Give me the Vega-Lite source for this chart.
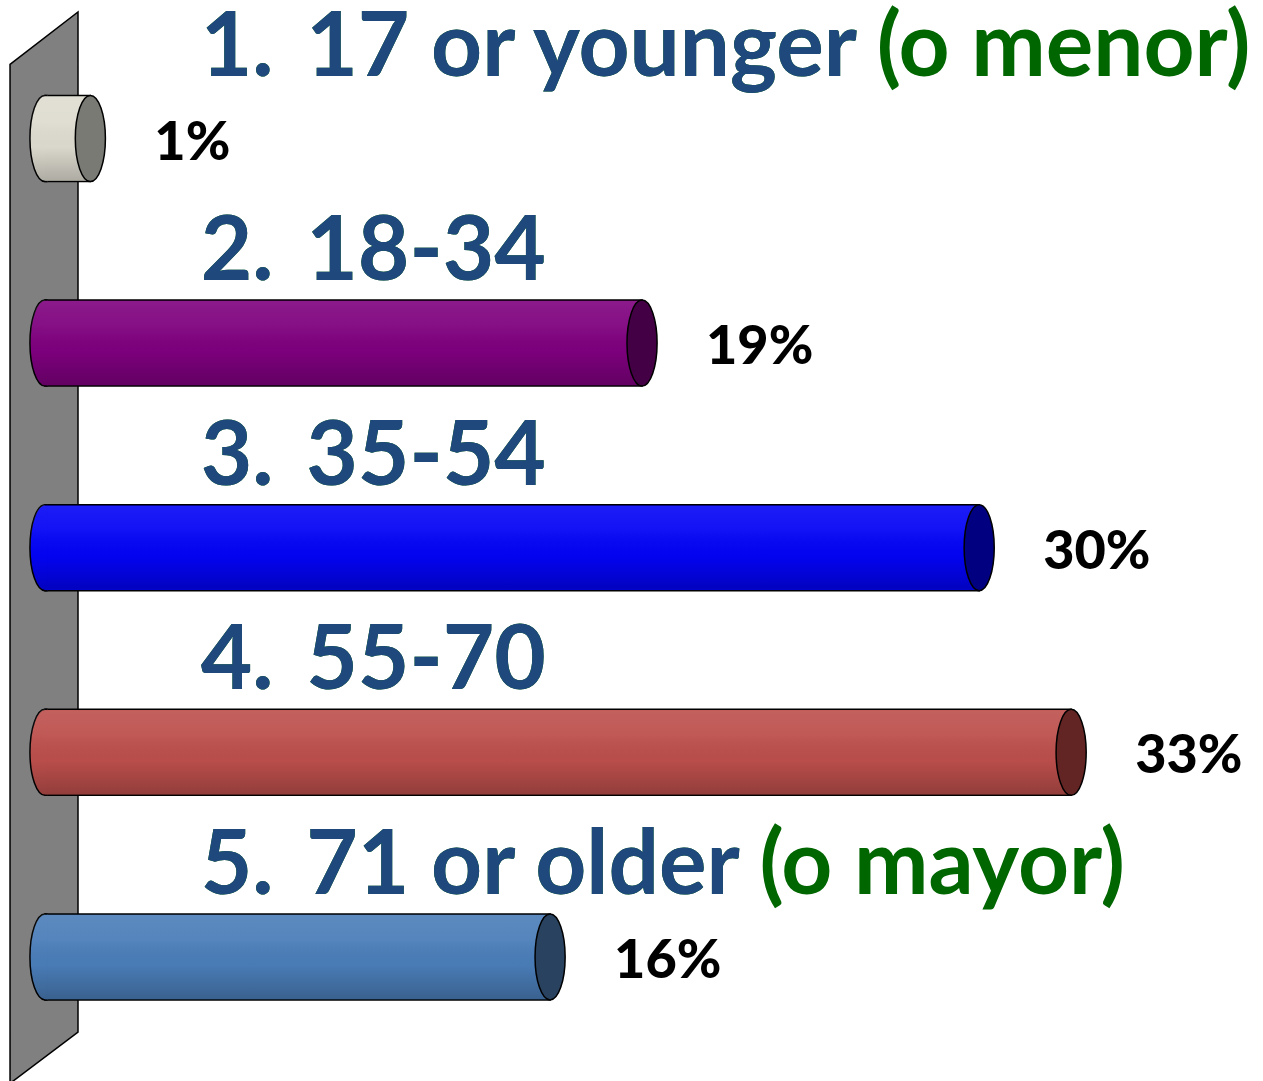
{
  "$schema": "https://vega.github.io/schema/vega-lite/v6.json",
  "width": 1263,
  "height": 1081,
  "autosize": {"type": "fit", "contains": "padding"},
  "padding": 0,
  "background": "white",
  "config": {"view": {"stroke": null}},
  "data": {"values": [
    {"cat": "1", "label": "1.\u00a0\u200917 or younger", "full": "1.\u00a0\u200917 or younger (o menor)", "value": 1, "pct": "1%"},
    {"cat": "2", "label": "2.\u00a0\u200918-34", "full": "2.\u00a0\u200918-34", "value": 19, "pct": "19%"},
    {"cat": "3", "label": "3.\u00a0\u200935-54", "full": "3.\u00a0\u200935-54", "value": 30, "pct": "30%"},
    {"cat": "4", "label": "4.\u00a0\u200955-70", "full": "4.\u00a0\u200955-70", "value": 33, "pct": "33%"},
    {"cat": "5", "label": "5.\u00a0\u200971 or older", "full": "5.\u00a0\u200971 or older (o mayor)", "value": 16, "pct": "16%"}
  ]},
  "encoding": {
    "y": {"field": "cat", "type": "nominal", "axis": null,
      "scale": {"domain": ["1", "2", "3", "4", "5"], "range": [36.2, 1059.2], "paddingInner": 0, "paddingOuter": 0}}
  },
  "layer": [
    {
      "data": {"values": [{"w": 1}]},
      "mark": {"type": "point", "shape": "M-0.0623,-0.886L0.0623,-0.982L0.0623,0.888L-0.0623,0.982Z", "size": 1190281, "filled": true, "fill": "#808080", "stroke": "black", "strokeWidth": 1.5, "opacity": 1},
      "encoding": {
        "x": {"datum": -0.512, "type": "quantitative", "scale": {"domain": [-1.948, 39.26], "nice": false, "zero": false}, "axis": null},
        "y": {"datum": "3", "type": "nominal"}
      }
    },
    {
      "mark": {"type": "bar", "size": 86, "stroke": "black", "strokeWidth": 1.5},
      "encoding": {
        "x": {"field": "value", "type": "quantitative", "axis": null},
        "x2": {"datum": -0.48},
        "color": {"field": "cat", "type": "nominal", "legend": null,
          "scale": {"domain": ["1", "2", "3", "4", "5"], "range": ["#DEDCD0", "#7E007E", "#0303F5", "#BC4F4C", "#4A7DB8"]}}
      }
    },
    {
      "mark": {"type": "point", "shape": "M0.06,-1L0,-1A0.35,1 0 0,0 0,1L0.06,1", "size": 7396, "filled": true, "stroke": "black", "strokeWidth": 1.5, "opacity": 1},
      "encoding": {
        "x": {"datum": -0.48, "type": "quantitative"},
        "color": {"field": "cat", "type": "nominal", "legend": null,
          "scale": {"domain": ["1", "2", "3", "4", "5"], "range": ["#DEDCD0", "#7E007E", "#0303F5", "#BC4F4C", "#4A7DB8"]}}
      }
    },
    {
      "mark": {"type": "bar", "size": 84, "stroke": null,
        "fill": {"gradient": "linear", "x1": 0, "y1": 0, "x2": 0, "y2": 1, "stops": [
          {"offset": 0, "color": "rgba(255,255,255,0.10)"},
          {"offset": 0.3, "color": "rgba(255,255,255,0.06)"},
          {"offset": 0.6, "color": "rgba(0,0,0,0.02)"},
          {"offset": 1, "color": "rgba(0,0,0,0.22)"}]}},
      "encoding": {
        "x": {"field": "value", "type": "quantitative"},
        "x2": {"datum": -0.48}
      }
    },
    {
      "mark": {"type": "point", "shape": "M0,-1A0.35,1 0 0,0 0,1Z", "size": 7396, "filled": true, "stroke": null, "opacity": 1,
        "fill": {"gradient": "linear", "x1": 0, "y1": 0, "x2": 0, "y2": 1, "stops": [
          {"offset": 0, "color": "rgba(255,255,255,0.10)"},
          {"offset": 0.3, "color": "rgba(255,255,255,0.06)"},
          {"offset": 0.6, "color": "rgba(0,0,0,0.02)"},
          {"offset": 1, "color": "rgba(0,0,0,0.22)"}]}},
      "encoding": {
        "x": {"datum": -0.48, "type": "quantitative"}
      }
    },
    {
      "mark": {"type": "point", "shape": "M0,-1A0.35,1 0 1,1 0,1A0.35,1 0 1,1 0,-1Z", "size": 7396, "filled": true, "stroke": "black", "strokeWidth": 1.5, "opacity": 1},
      "encoding": {
        "x": {"field": "value", "type": "quantitative"},
        "color": {"field": "cat", "type": "nominal", "legend": null,
          "scale": {"domain": ["1", "2", "3", "4", "5"], "range": ["#7A7A74", "#440044", "#000080", "#632523", "#29425F"]}}
      }
    },
    {
      "mark": {"type": "text", "align": "left", "baseline": "alphabetic", "dx": 64, "dy": 21, "font": "Lato", "fontWeight": 900, "fontSize": 54, "fill": "black"},
      "encoding": {
        "x": {"field": "value", "type": "quantitative"},
        "text": {"field": "pct"}
      }
    },
    {
      "mark": {"type": "text", "align": "left", "baseline": "alphabetic", "dy": -63, "font": "Lato", "fontWeight": "bold", "fontSize": 89, "fill": "#006600"},
      "encoding": {
        "x": {"datum": 4.6, "type": "quantitative"},
        "text": {"field": "full"}
      }
    },
    {
      "mark": {"type": "text", "align": "left", "baseline": "alphabetic", "dy": -63, "font": "Lato", "fontWeight": "bold", "fontSize": 89, "fill": "#1F497D"},
      "encoding": {
        "x": {"datum": 4.6, "type": "quantitative"},
        "text": {"field": "label"}
      }
    }
  ],
  "resolve": {"scale": {"color": "independent"}}
}
